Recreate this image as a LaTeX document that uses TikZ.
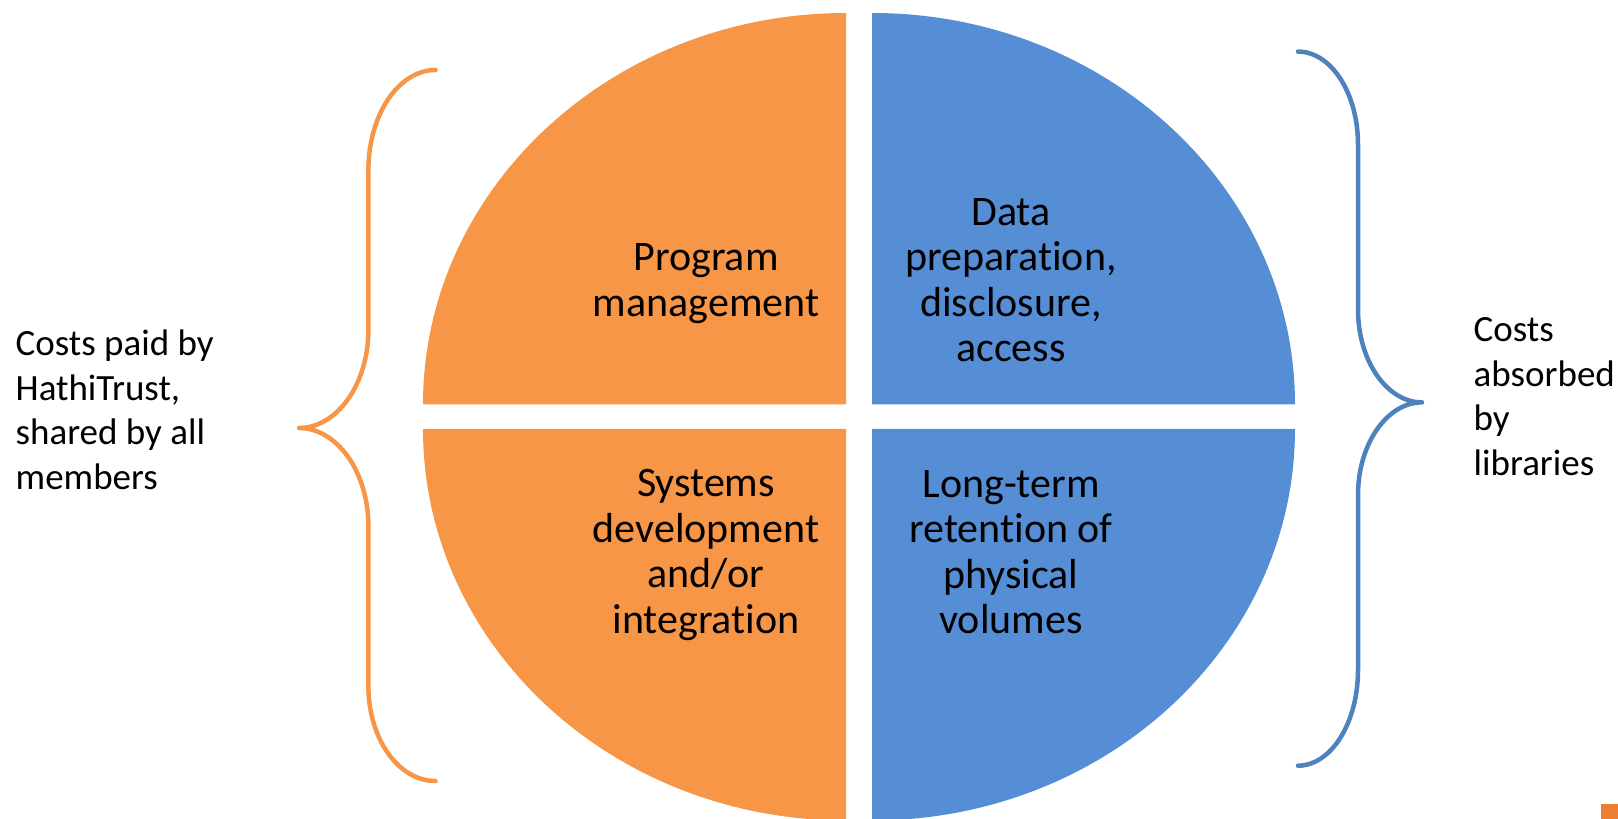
\documentclass[tikz,border=0pt]{standalone}
\usepackage{fontspec}
\setmainfont{Carlito}[Ligatures=NoCommon]
\usepackage{tikz}
\usetikzlibrary{calc}
\definecolor{quadorange}{rgb}{0.968627, 0.588235, 0.274510}
\definecolor{quadblue}{rgb}{0.333333, 0.556863, 0.835294}
\definecolor{braceblue}{rgb}{0.309804, 0.505882, 0.741176}
\definecolor{markorange}{rgb}{0.929412, 0.490196, 0.192157}

\begin{document}
\begin{tikzpicture}[x=1pt, y=1pt]
	\useasboundingbox (0,0) rectangle (1618,819);
	\clip (0,0) rectangle (1618,819);

	% the four quarters
	\fill[quadorange] (846,414.5) -- (423,414.5) arc (180:90:423pt and 391.5pt) -- cycle;
	\fill[quadblue] (872,414.5) -- (872,806) arc (90:0:423pt and 391.5pt) -- cycle;
	\fill[quadorange] (846,390) -- (846,-1.5) arc (270:180:423pt and 391.5pt) -- cycle;
	\fill[quadblue] (872,390) -- (1295,390) arc (0:-90:423pt and 391.5pt) -- cycle;

	\begin{scope}[every node/.style={inner sep=0, align=center, font=\fontsize{42}{45.5}\selectfont}]
	\node (prog) at (706,535.5) {Program\\management};
	\node (data) at (1011,539) {Data\\preparation,\\disclosure,\\access};
	\node (sys) at (706,264) {Systems\\development\\and/or\\integration};
	\node (longterm) at (1011,267) {Long-term\\retention of\\physical\\volumes};
	\end{scope}

	\begin{scope}[every node/.style={inner sep=0, align=left, anchor=west, font=\fontsize{37}{44.5}\selectfont}]
	\node (paid) at (15.5,409.4) {Costs paid by\\HathiTrust,\\shared by all\\members};
	\node (absorbed) at (1473.5,422.5) {Costs\\absorbed\\by\\libraries};
	\end{scope}

	% braces
	\draw[quadorange, line width=4.5pt, line join=round, line cap=round] (435.5,749)
		.. controls (398.5,749) and (368.4,704) .. (368.4,649) -- (368.4,489)
		.. controls (368.4,435) and (337,391) .. (299,391)
		.. controls (337,391) and (368.4,347) .. (368.4,293) -- (368.4,133)
		.. controls (368.4,80) and (398.5,38) .. (435.5,38);
	\draw[braceblue, line width=4.5pt, line join=round, line cap=round] (1298,767.4)
		.. controls (1331,767.4) and (1358,726) .. (1358,674.5) -- (1358,509.4)
		.. controls (1358,458) and (1387,416.6) .. (1422,416.6)
		.. controls (1387,416.6) and (1358,375) .. (1358,324) -- (1358,149)
		.. controls (1358,96) and (1331,53.3) .. (1298,53.3);

	\fill[markorange] (1600.5,0) rectangle (1618,15);
\end{tikzpicture}
\end{document}
